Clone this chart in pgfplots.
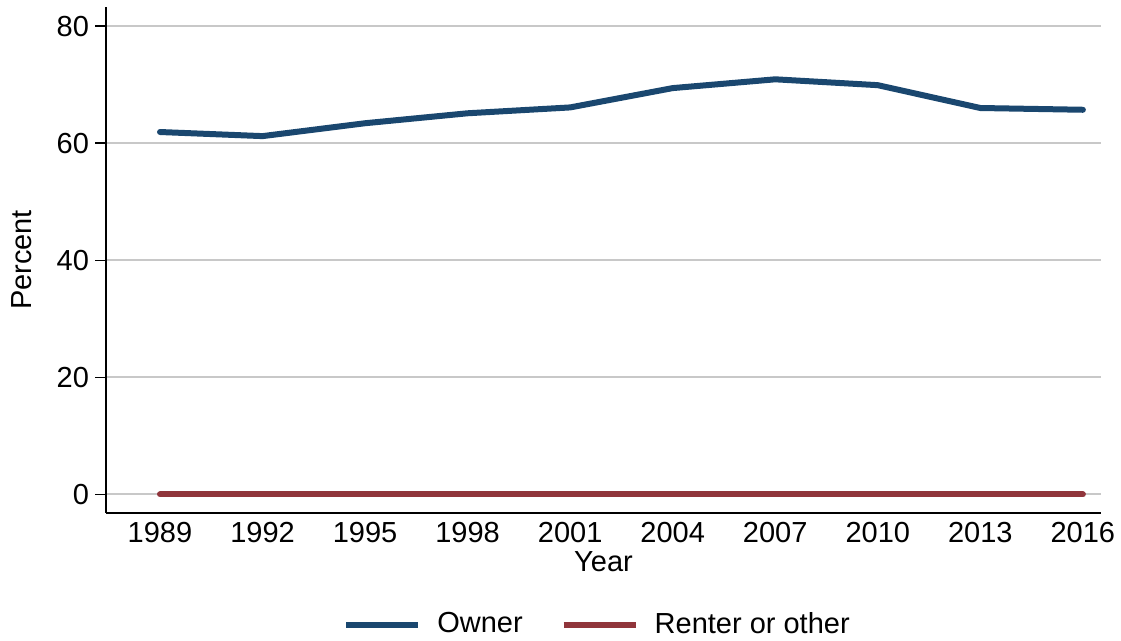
\documentclass[border=0pt]{standalone}
\usepackage{fontspec}
\setmainfont{Liberation Sans}
\usepackage{pgfplots}
\pgfplotsset{compat=1.18}
\definecolor{ownerc}{HTML}{1A476F}
\definecolor{renterc}{HTML}{90353B}
\definecolor{gridc}{RGB}{200,200,200}
\begin{document}
\fontsize{14.5}{17}\selectfont
\begin{tikzpicture}
\useasboundingbox (0,0) rectangle (560.5pt,320.5pt);
\begin{axis}[
  at={(53pt,64pt)}, anchor=south west,
  scale only axis, width=497.5pt, height=253pt,
  xmin=1987.42, xmax=2016.53, ymin=-3.16, ymax=83.25,
  axis lines=left, axis line style={-, line width=0.7pt, black},
  xtick={1989,1992,...,2016}, ytick={0,20,...,80},
  xticklabel style={/pgf/number format/1000 sep={}, yshift=6pt},
  yticklabel style={xshift=2pt},
  /pgf/number format/assume math mode=true,
  major x tick style={draw=none},
  major y tick style={line width=0.7pt, black},
  tick align=outside, major tick length=5.5pt,
  ymajorgrids, grid style={gridc, line width=1pt},
  tick label style={font=\fontsize{14.5}{17}\selectfont},
  label style={font=\fontsize{14.5}{17}\selectfont},
  xlabel={Year}, ylabel={Percent},
  xlabel style={at={(axis description cs:0.5,-0.0968)}, anchor=center},
  ylabel style={at={(axis description cs:-0.0844,0.5)}, anchor=center, rotate=0},
  legend columns=2,
  legend style={at={(0.495,-0.2213)}, anchor=center, draw=none, font=\fontsize{14.5}{17}\selectfont,
    /tikz/every even column/.append style={column sep=17pt}},
  legend image code/.code={\draw[#1, line width=3pt, line cap=butt] (0pt,0pt) -- (36pt,0pt); \path (42pt,0pt);},
]
\addplot[ownerc, line width=3pt, line cap=round, line join=round] coordinates {
(1989,61.9) (1992,61.2) (1995,63.4) (1998,65.1) (2001,66.1) (2004,69.4) (2007,70.9) (2010,69.9) (2013,66.0) (2016,65.7)};
\addlegendentry{Owner}
\addplot[renterc, line width=3pt, line cap=round, line join=round] coordinates {
(1989,0) (1992,0) (1995,0) (1998,0) (2001,0) (2004,0) (2007,0) (2010,0) (2013,0) (2016,0)};
\addlegendentry{Renter or other}
\end{axis}
\end{tikzpicture}
\end{document}
